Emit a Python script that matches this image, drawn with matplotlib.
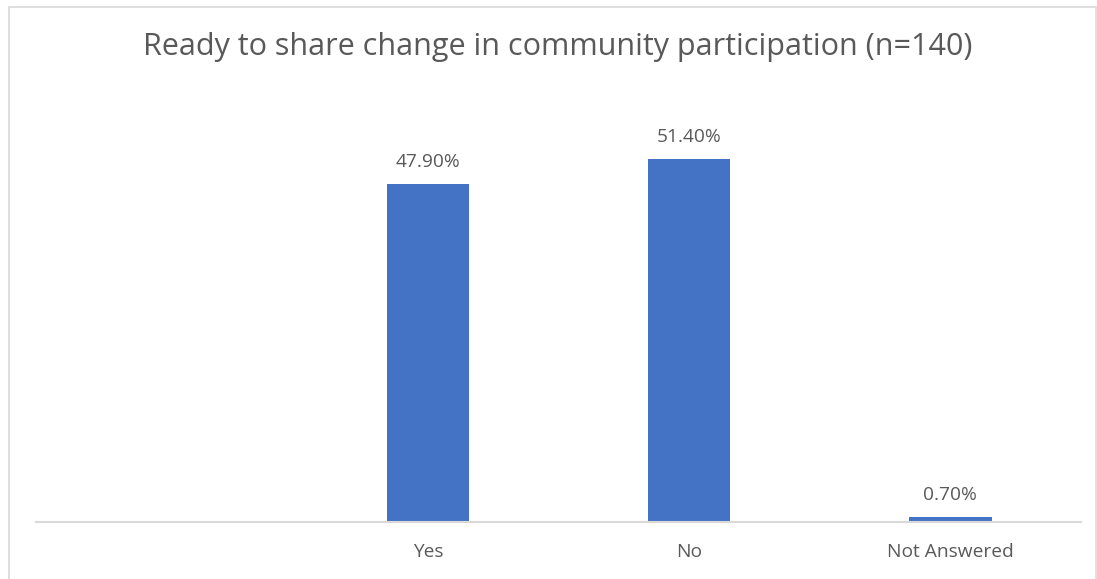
import matplotlib
matplotlib.use("Agg")
import matplotlib.pyplot as plt
from matplotlib.patches import Rectangle

categories = ["", "Yes", "No", "Not Answered"]
values = [None, 47.9, 51.4, 0.7]
value_labels = ["", "47.90%", "51.40%", "0.70%"]

TEXT = "#595959"
BAR = "#4472C4"
GRID = "#D9D9D9"

plt.rcParams["font.family"] = ["Open Sans", "DejaVu Sans"]

W, H = 1097, 579
fig = plt.figure(figsize=(W / 100, H / 100), dpi=100)

# chart frame
fig.patches.append(Rectangle((8.5 / W, -0.05), (1095.5 - 8.5) / W, 1.05 - 6.5 / H,
                             transform=fig.transFigure, fill=False,
                             edgecolor=GRID, linewidth=1.2))

ax = fig.add_axes([36 / W, (H - 522) / H, 1045 / W, 424 / H])
xs = list(range(len(categories)))
for x, v, lab in zip(xs, values, value_labels):
    if v is None:
        continue
    ax.bar(x, v, width=0.315, color=BAR, zorder=2)
    ax.text(x, v + 2.4, lab, ha="center", va="baseline", fontsize=13.8, color=TEXT)

ax.set_xlim(-0.5, len(categories) - 0.5)
ax.set_ylim(0, 60)
ax.set_xticks(xs)
ax.set_xticklabels(categories, fontsize=13.8, color=TEXT)
ax.tick_params(axis="x", length=0, pad=15)
ax.set_yticks([])
for s in ["top", "right", "left"]:
    ax.spines[s].set_visible(False)
ax.spines["bottom"].set_color(GRID)
ax.spines["bottom"].set_linewidth(1.5)

fig.text(558 / W, 1 - 47 / H, "Ready to share change in community participation (n=140)",
         ha="center", va="center", fontsize=22, color=TEXT)

fig.savefig("out.png", dpi=100, facecolor="white")
